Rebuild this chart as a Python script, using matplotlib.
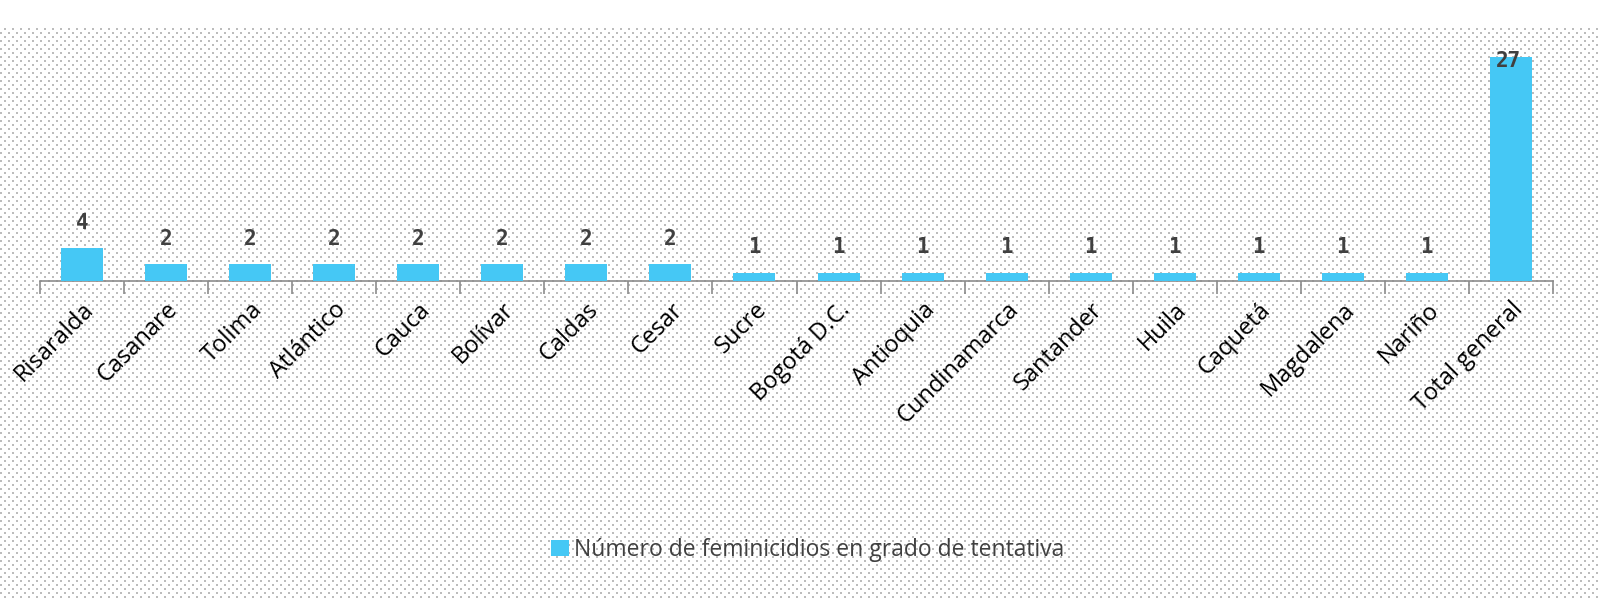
import matplotlib.pyplot as plt
import numpy as np

departamentos = ['Risaralda', 'Casanare', 'Tolima', 'Atlántico', 'Cauca', 'Bolívar',
                 'Caldas', 'Cesar', 'Sucre', 'Bogotá D.C.', 'Antioquia', 'Cundinamarca',
                 'Santander', 'Huila', 'Caquetá', 'Magdalena', 'Nariño', 'Total general']
casos = [4, 2, 2, 2, 2, 2, 2, 2, 1, 1, 1, 1, 1, 1, 1, 1, 1, 27]
serie = 'Número de feminicidios en grado de tentativa'

azul = '#45c8f5'
gris_txt = '#404040'

W, H = 1598, 599
fig = plt.figure(figsize=(W / 100, H / 100), dpi=100)

# fondo punteado (estilo de la hoja de calculo)
fondo = fig.add_axes([0, 0, 1, 1], zorder=-10)
pat = np.ones((H, W, 3))
yy, xx = np.mgrid[0:H, 0:W]
fila = (yy // 2) % 2 == 0
par = (yy // 4) % 2 == 0
col = np.where(par, xx % 8, (xx + 4) % 8)
puntos = fila & (col < 2) & (yy >= 28)
pat[puntos] = 0.74
fondo.imshow(pat, interpolation='nearest', aspect='auto', extent=(0, W, H, 0))
fondo.set_axis_off()

ax = fig.add_axes([40 / W, 1 - 281 / H, 1513 / W, (281 - 48.7) / H])
ax.patch.set_alpha(0)
x = np.arange(len(departamentos))
barras = ax.bar(x, casos, width=0.5, color=azul, label=serie, zorder=3)

ymax = 28
for xi, v in zip(x, casos):
    if v + 2 > ymax:
        # no cabe arriba: va sobre el borde de la barra
        ax.annotate(str(v), (xi, v), xytext=(-2, -3), textcoords='offset points',
                    ha='center', va='center', fontsize=15, fontweight='bold',
                    family='DejaVu Sans Mono', color=gris_txt, zorder=4)
    else:
        ax.annotate(str(v), (xi, v), xytext=(0, 11), textcoords='offset points',
                    ha='center', va='bottom', fontsize=15, fontweight='bold',
                    family='DejaVu Sans Mono', color=gris_txt, zorder=4)

ax.set_xlim(-0.5, len(departamentos) - 0.5)
ax.set_ylim(0, ymax)
ax.set_yticks([])
for lado in ['top', 'right', 'left']:
    ax.spines[lado].set_visible(False)
ax.spines['bottom'].set_color('#8c8c8c')
ax.spines['bottom'].set_linewidth(1.2)

ax.set_xticks(x)
ax.set_xticklabels(departamentos, rotation=45, ha='right', va='top',
                   rotation_mode='anchor', fontsize=17, family='Open Sans',
                   color='black')
ax.tick_params(axis='x', which='major', length=0, pad=12)
ax.set_xticks(np.arange(-0.5, len(departamentos)), minor=True)
ax.tick_params(axis='x', which='minor', length=9, width=1.2, color='#8c8c8c')

leg = fig.legend(handles=[barras], labels=[serie], loc='center',
                 bbox_to_anchor=(808 / W, 1 - 550 / H), frameon=False,
                 prop={'family': 'Open Sans', 'size': 16.5},
                 handlelength=0.75, handleheight=0.75, handletextpad=0.25)
for t in leg.get_texts():
    t.set_color(gris_txt)

fig.savefig('out.png', dpi=100)
